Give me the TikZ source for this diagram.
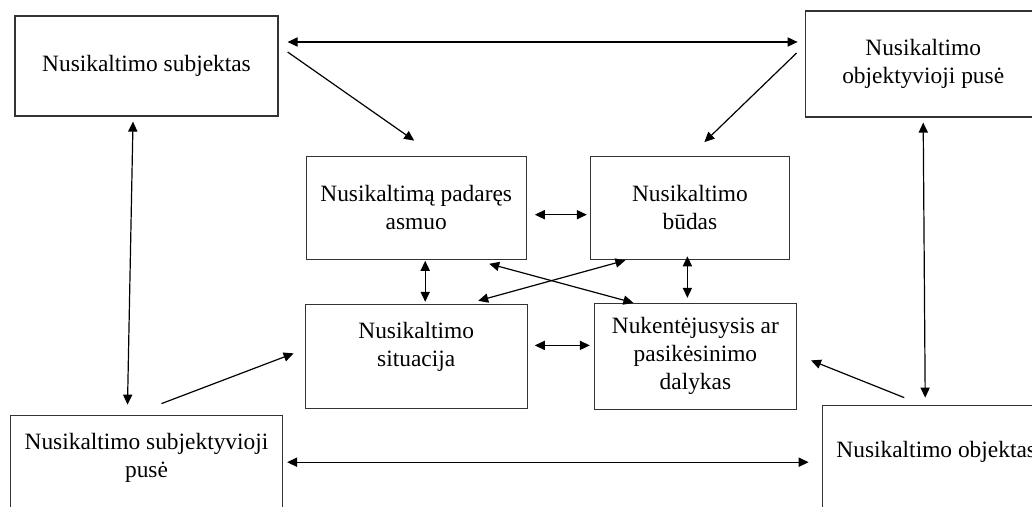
\documentclass[tikz,border=0pt]{standalone}
\usepackage{fontspec}
\setmainfont{Liberation Serif}
\usetikzlibrary{positioning, arrows.meta}
\newcommand{\liftby}[1]{\rule[-#1]{0pt}{#1}}
\tikzstyle{element} = [
    rectangle,
    draw = black!80,
    line width = 0.6pt,
    align = center,
    font = \fontsize{11.7}{14}\selectfont,
    minimum height = 53pt
]
\tikzstyle{feature} = [
    rectangle,
    draw = black!80,
    line width = 0.6pt,
    align = center,
    font = \fontsize{11.7}{14}\selectfont,
    minimum height = 51.5pt
]
\tikzstyle{oneway} = [
    -{Triangle[length = 5pt, width = 4.6pt]},
    line width = 0.6pt
]
\tikzstyle{twoway} = [
    {Triangle[length = 5pt, width = 4.6pt]}-{Triangle[length = 5pt, width = 4.6pt]},
    line width = 0.6pt
]
\begin{document}
\begin{tikzpicture}

                \useasboundingbox (0,0) rectangle (516pt,-253.5pt);
                \clip (0,0) rectangle (516pt,-253.5pt);

                % outer elements
                \node [element, minimum width = 131.5pt, minimum height = 50pt] (subjektas) at (73.25pt,-33pt) {Nusikaltimo subjektas};
                \node [element, minimum width = 118pt, right = 263pt of subjektas, yshift = 1pt] (objPuse) {Nusikaltimo\\objektyvioji pusė};
                \node [element, minimum width = 136pt, below = 149pt of subjektas] (subjPuse) {Nusikaltimo subjektyvioji\\pusė\liftby{12.5pt}};
                \node [element, minimum width = 114pt, below = 143.5pt of objPuse, xshift = 6.5pt] (objektas) {Nusikaltimo objektas\liftby{9pt}};

                % inner features
                \node [feature, minimum width = 110pt, below right = 19.5pt and 13.5pt of subjektas] (asmuo) {Nusikaltimą padaręs\\asmuo};
                \node [feature, minimum width = 99.5pt, right = 31.5pt of asmuo] (budas) {Nusikaltimo\\būdas};
                \node [feature, minimum width = 111pt, minimum height = 52pt, below = 22pt of asmuo] (situacija) {Nusikaltimo\\situacija\liftby{12.5pt}};
                \node [feature, minimum width = 101pt, minimum height = 53pt, right = 33pt of situacija] (nukentejes) {Nukentėjusysis ar\\pasikėsinimo\\dalykas};

                % links between outer elements
                \draw [twoway] ([shift={(4.5pt,12pt)}]subjektas.east) -- ([shift={(-3.5pt,11pt)}]objPuse.west);
                \draw [twoway] ([shift={(-6.75pt,-2.5pt)}]subjektas.south) -- ([shift={(-9.5pt,5pt)}]subjPuse.north);
                \draw [twoway] ([shift={(0pt,-2.5pt)}]objPuse.south) -- ([shift={(-5.5pt,3.5pt)}]objektas.north);
                \draw [twoway] ([shift={(2pt,3pt)}]subjPuse.east) -- ([shift={(-6.5pt,-2pt)}]objektas.west);

                % from outer elements to inner features
                \draw [oneway] ([shift={(4.5pt,7pt)}]subjektas.east) -- ([shift={(-1pt,7.5pt)}]asmuo.north);
                \draw [oneway] ([shift={(-4pt,5.5pt)}]objPuse.west) -- ([shift={(7.25pt,6.75pt)}]budas.north);
                \draw [oneway] ([shift={(7.5pt,5.5pt)}]subjPuse.north) -- ([shift={(-5.5pt,1.5pt)}]situacija.west);
                \draw [oneway] ([shift={(-16pt,3.5pt)}]objektas.north) -- ([shift={(7pt,-2pt)}]nukentejes.east);

                % links between inner features
                \draw [twoway] ([shift={(4pt,-3.5pt)}]asmuo.east) -- ([shift={(-1.5pt,-3.5pt)}]budas.west);
                \draw [twoway] ([shift={(3.5pt,5.5pt)}]situacija.east) -- ([shift={(-2pt,5.5pt)}]nukentejes.west);
                \draw [twoway] ([shift={(4.5pt,-0.5pt)}]asmuo.south) -- ([shift={(4.5pt,1pt)}]situacija.north);
                \draw [twoway] ([shift={(-1.25pt,1.75pt)}]budas.south) -- ([shift={(-4pt,2.5pt)}]nukentejes.north);
                \draw [twoway] ([shift={(36.5pt,-2pt)}]asmuo.south) -- ([shift={(-31pt,0pt)}]nukentejes.north);
                \draw [twoway] ([shift={(31pt,1.5pt)}]situacija.north) -- ([shift={(-32.25pt,-0.25pt)}]budas.south);

            \end{tikzpicture}
\end{document}
